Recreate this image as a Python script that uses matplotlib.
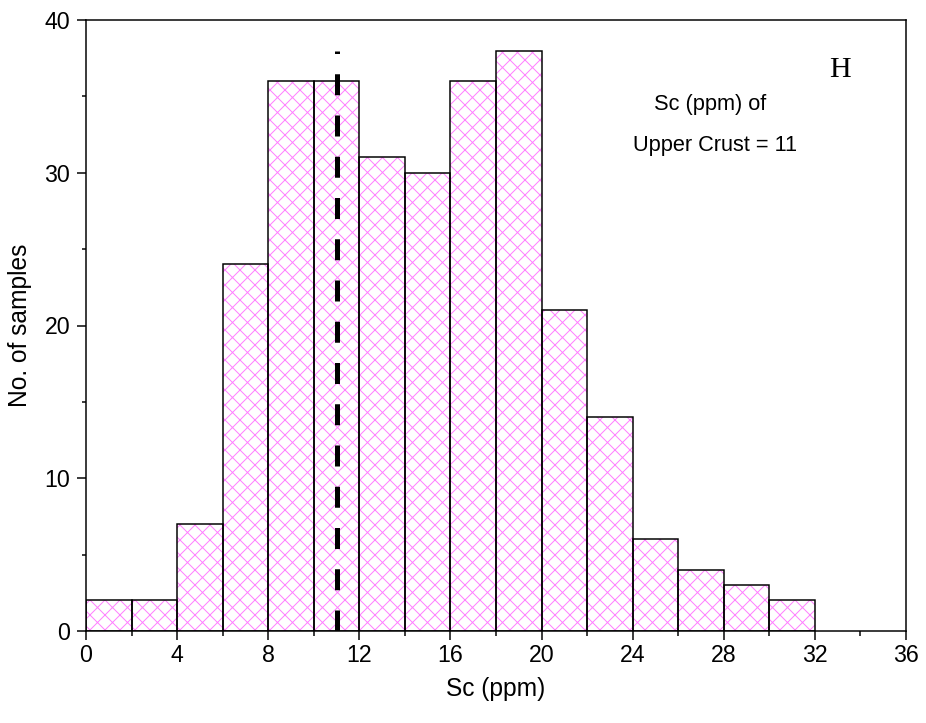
import numpy as np
import matplotlib
matplotlib.use('Agg')
import matplotlib.pyplot as plt
from matplotlib.ticker import MultipleLocator

plt.rcParams['font.family'] = ['Liberation Sans', 'DejaVu Sans']
plt.rcParams['hatch.linewidth'] = 0.8
plt.rcParams['lines.scale_dashes'] = False

# Sc histogram, 2 ppm bins
bin_edges = np.arange(0, 34, 2)
counts = [2, 2, 7, 24, 36, 36, 31, 30, 36, 38, 21, 14, 6, 4, 3, 2]
upper_crust = 11

fig = plt.figure(figsize=(926 / 90, 723 / 90), dpi=90, facecolor='white')
ax = fig.add_axes([86 / 926, 1 - 631 / 723, 820 / 926, 611 / 723])

# pink cross-hatch fill, then black outlines on top
ax.bar(bin_edges[:-1], counts, width=2, align='edge', color='white',
       edgecolor='#ff80ff', linewidth=0, hatch='xx', zorder=2)
ax.bar(bin_edges[:-1], counts, width=2, align='edge', fill=False,
       edgecolor='black', linewidth=1.2, zorder=2.5)

ax.plot([upper_crust, upper_crust], [0, 38], color='black', linewidth=4,
        dashes=(16.8, 16.2), solid_capstyle='butt', zorder=3)

ax.set_xlim(0, 36)
ax.set_ylim(0, 40)
ax.xaxis.set_major_locator(MultipleLocator(4))
ax.xaxis.set_minor_locator(MultipleLocator(2))
ax.yaxis.set_major_locator(MultipleLocator(10))
ax.yaxis.set_minor_locator(MultipleLocator(5))
ax.tick_params(which='both', direction='out', width=1.2, top=False, right=False)
ax.tick_params(which='major', length=7.2, labelsize=18.5)
ax.tick_params(axis='y', which='major', pad=5.5)
ax.tick_params(axis='x', which='major', pad=3.5)
ax.tick_params(which='minor', length=3.6)
for s in ax.spines.values():
    s.set_linewidth(1.2)

ax.set_xlabel('Sc (ppm)', fontsize=19.6, labelpad=8)
ax.set_ylabel('No. of samples', fontsize=19.6, labelpad=10)

ax.text(27.4, 34.5, 'Sc (ppm) of', fontsize=17.4, ha='center', va='center')
ax.text(27.6, 31.8, 'Upper Crust = 11', fontsize=17.4, ha='center', va='center')
ax.text(33.1, 36.7, 'H', fontsize=24, ha='center', va='center',
        family=['Liberation Serif', 'DejaVu Serif'])

fig.savefig('out.png', dpi=90)
